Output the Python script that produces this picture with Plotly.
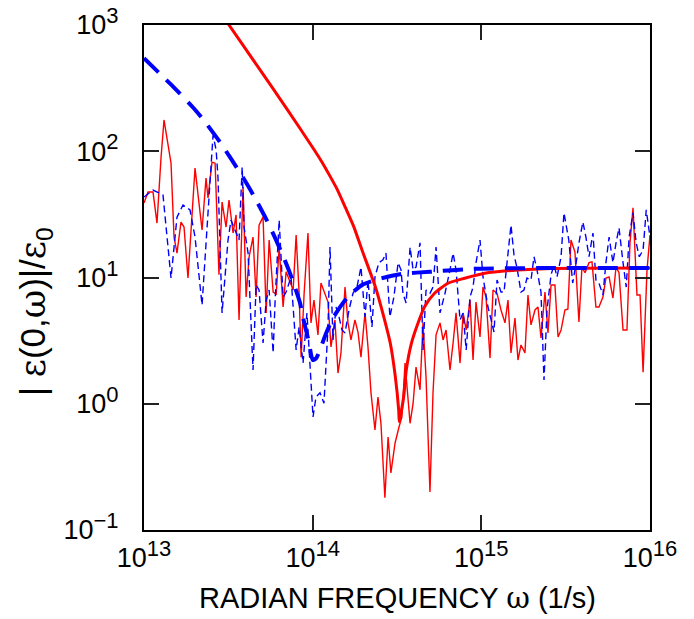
import plotly.graph_objects as go

# ---------------- data ----------------
# thick red solid curve
red_smooth_omega = [2.82e13, 3.19e13, 4.5e13, 7.11e13, 1.0e14, 1.12e14, 1.245e14, 1.40e14, 1.562e14,
                    1.75e14, 1.961e14, 2.352e14, 2.638e14, 2.886e14, 3.09e14, 3.236e14, 3.263e14,
                    3.465e14, 3.59e14, 3.85e14, 4.21e14, 4.61e14, 5.28e14, 6.34e14, 7.96e14,
                    1.047e15, 1.639e15, 2.58e15, 1.0e16]
red_smooth_eps = [1260, 1000, 515, 212, 107, 84.5, 66.2, 49.7, 35.9,
                  25.4, 16.5, 8.45, 4.90, 3.01, 1.64, 0.892, 0.72,
                  1.14, 1.85, 3.01, 4.34, 5.87, 7.50, 9.0, 9.86,
                  10.8, 11.46, 11.8, 11.9]

# thick blue dashed curve
blue_smooth_omega = [1.00e13, 1.284e13, 1.492e13, 1.960e13, 2.269e13, 2.822e13, 3.235e13, 3.97e13,
                     4.49e13, 5.34e13, 5.98e13, 6.95e13, 7.51e13, 8.41e13, 8.77e13, 9.5e13,
                     1.0e14, 1.05e14, 1.2e14, 1.32e14, 1.597e14, 1.96e14, 2.43e14, 3.43e14,
                     4.96e14, 8.93e14, 2.55e15, 1.0e16]
blue_smooth_eps = [545, 394, 324, 221, 175, 118, 89.7, 58.4,
                   44.0, 28.5, 20.7, 13.0, 9.93, 6.31, 4.78, 3.08,
                   2.22, 2.30, 3.6, 4.78, 6.88, 8.72, 9.7, 10.7,
                   11.1, 11.7, 11.9, 11.9]

# thin red noisy curve
red_noisy_omega = [
    1.00e13, 1.056e13, 1.131e13, 1.194e13, 1.261e13, 1.314e13, 1.446e13, 1.507e13, 1.569e13, 1.657e13,
    1.727e13, 1.823e13, 2.007e13, 2.209e13, 2.332e13, 2.396e13, 2.530e13, 2.640e13, 2.783e13, 2.903e13,
    3.066e13, 3.192e13, 3.373e13, 3.514e13, 3.660e13, 3.867e13, 4.03e13, 4.20e13, 4.43e13, 4.62e13,
    4.81e13, 5.08e13, 5.30e13, 5.52e13, 5.83e13, 6.08e13, 6.33e13, 6.68e13, 6.96e13, 7.25e13,
    7.66e13, 7.98e13, 8.31e13, 8.54e13, 8.90e13, 9.38e13, 9.77e13,
    1.018e14, 1.075e14, 1.120e14, 1.183e14, 1.233e14, 1.284e14, 1.356e14, 1.413e14, 1.472e14, 1.555e14,
    1.620e14, 1.687e14, 1.781e14, 1.856e14, 1.934e14, 2.043e14, 2.128e14, 2.217e14, 2.341e14, 2.439e14,
    2.54e14, 2.68e14, 2.80e14, 2.91e14, 3.08e14, 3.25e14, 3.38e14, 3.53e14, 3.78e14, 3.94e14,
    4.10e14, 4.33e14, 4.51e14, 4.70e14, 4.96e14, 5.17e14, 5.39e14, 5.69e14, 5.93e14, 6.18e14,
    6.52e14, 6.80e14, 7.08e14, 7.48e14, 7.80e14, 8.13e14, 8.57e14, 8.93e14, 9.30e14, 9.82e14,
    1.023e15, 1.066e15, 1.126e15, 1.173e15, 1.239e15, 1.308e15, 1.381e15, 1.439e15, 1.499e15, 1.583e15,
    1.649e15, 1.718e15, 1.814e15, 1.890e15, 1.970e15, 2.080e15, 2.167e15, 2.258e15, 2.384e15, 2.484e15,
    2.59e15, 2.73e15, 2.85e15, 2.97e15, 3.13e15, 3.26e15, 3.40e15, 3.59e15, 3.79e15, 3.95e15,
    4.12e15, 4.35e15, 4.53e15, 4.78e15, 4.98e15, 5.26e15, 5.48e15, 5.72e15, 6.03e15, 6.29e15,
    6.55e15, 6.92e15, 7.30e15, 7.61e15, 7.93e15, 8.37e15, 8.73e15, 9.10e15, 9.60e15, 1.00e16]
red_noisy_eps = [
    38.9, 47.5, 47.5, 27.0, 88.2, 177, 80.5, 20.9, 15.6, 27.5,
    25.1, 9.9, 73.6, 23.8, 61.2, 42.6, 82, 80.5, 10.5, 39.6,
    25.1, 41.1, 22.5, 31.3, 4.61, 52.1, 7.0, 14.6, 20.9, 7.0,
    26.0, 30.2, 5.24, 19.8, 7.67, 7.4, 17.4, 5.84, 11.1, 9.55,
    7.96, 21.7, 7.5, 2.34, 7.5, 22.5, 4.37,
    6.63, 3.51, 9.04, 7.27, 6.39, 2.82, 4.61, 1.75, 2.53, 8.4,
    4.37, 3.20, 4.61, 3.70, 2.34, 5.24, 2.82, 1.22, 0.619, 1.13,
    0.70, 0.18, 0.545, 0.283, 0.489, 0.654, 0.785, 2.10, 0.70, 1.01,
    1.95, 1.29, 4.37, 1.63, 0.20, 1.22, 3.51, 4.37, 3.20, 3.84,
    1.85, 3.03, 5.24, 2.10, 5.24, 3.84, 6.63, 2.22, 6.39, 3.38,
    8.4, 7.0, 2.30, 7.96, 7.5, 5.53, 4.37, 6.63, 2.53, 4.78,
    2.22, 2.92, 2.53, 7.27, 4.21, 5.53, 5.84, 3.32, 7.67, 3.64,
    8.72, 8.72, 3.38, 3.84, 5.53, 5.63, 19.8, 15.9, 4.44, 12.1,
    10.9, 13.1, 13.3, 5.84, 5.84, 7.0, 9.9, 10.1, 6.88, 12.1,
    10.9, 3.84, 3.84, 18.8, 35.6, 7.27, 7.27, 1.78, 11.5, 21.7]

# thin blue dashed noisy curve
blue_noisy_omega = [
    1.00e13, 1.131e13, 1.296e13, 1.446e13, 1.569e13, 1.703e13, 1.874e13, 2.007e13, 2.209e13, 2.364e13,
    2.566e13, 2.678e13, 2.745e13, 2.903e13, 3.149e13, 3.28e13, 3.42e13, 3.66e13, 3.82e13, 3.92e13,
    4.14e13, 4.26e13, 4.43e13, 4.62e13, 4.81e13, 5.08e13, 5.30e13, 5.52e13, 5.83e13, 5.99e13,
    6.33e13, 6.68e13, 6.96e13, 7.44e13, 7.98e13, 8.31e13, 8.77e13, 9.25e13, 9.64e13,
    1.005e14, 1.046e14, 1.105e14, 1.167e14, 1.200e14, 1.233e14, 1.267e14, 1.320e14, 1.375e14, 1.433e14,
    1.492e14, 1.555e14, 1.642e14, 1.734e14, 1.831e14, 1.934e14, 2.043e14, 2.128e14, 2.247e14, 2.341e14,
    2.47e14, 2.61e14, 2.72e14, 2.87e14, 3.03e14, 3.21e14, 3.34e14, 3.43e14, 3.58e14, 3.78e14,
    3.94e14, 4.10e14, 4.33e14, 4.51e14, 4.70e14, 4.96e14, 5.17e14, 5.39e14, 5.69e14, 6.09e14,
    6.52e14, 6.80e14, 7.08e14, 7.48e14, 7.80e14, 8.13e14, 8.57e14, 8.93e14, 9.30e14, 9.82e14,
    1.023e15, 1.095e15, 1.189e15, 1.239e15, 1.308e15, 1.363e15, 1.420e15, 1.499e15, 1.562e15, 1.628e15,
    1.718e15, 1.790e15, 1.865e15, 1.970e15, 2.052e15, 2.138e15, 2.258e15, 2.353e15, 2.451e15, 2.59e15,
    2.70e15, 2.81e15, 2.97e15, 3.09e15, 3.30e15, 3.48e15, 3.65e15, 3.79e15, 4.00e15, 4.17e15,
    4.35e15, 4.59e15, 4.78e15, 4.98e15, 5.26e15, 5.48e15, 5.72e15, 6.03e15, 6.29e15, 6.55e15,
    6.92e15, 7.23e15, 7.52e15, 7.93e15, 8.28e15, 8.64e15, 9.10e15, 9.50e15, 1.00e16]
blue_noisy_eps = [
    43.4, 49.3, 45.0, 9.9, 30.1, 37.5, 34.3, 20.9, 6.05, 25.1,
    134, 102, 62.3, 5.24, 19.8, 28.5, 25.1, 19.8, 75, 25.1,
    15.6, 6.28, 1.85, 8.72, 7.96, 3.03, 6.63, 7.96, 2.53, 6.63,
    28.5, 7.0, 7.67, 10.1, 2.67, 4.06, 2.10, 5.24, 2.10,
    0.785, 1.13, 1.22, 1.01, 1.85, 4.06, 17.4, 3.20, 5.84, 4.87,
    3.84, 3.64, 5.53, 7.5, 8.4, 12.1, 4.87, 9.55, 4.06, 10.1,
    13.1, 13.8, 15.6, 4.87, 7.0, 13.1, 11.5, 7.5, 6.28, 17.4,
    11.5, 12.1, 18.8, 2.67, 7.96, 7.5, 8.4, 17.4, 5.24, 7.5,
    11.5, 15.6, 11.5, 4.61, 5.24, 2.67, 7.0, 8.4, 13.1, 19.8,
    10.1, 5.84, 3.70, 9.55, 7.67, 7.67, 13.1, 26.0, 15.1, 11.9,
    7.67, 7.96, 9.9, 9.55, 14.6, 11.5, 7.67, 1.54, 5.53, 10.5,
    12.6, 10.1, 14.6, 32.5, 19.8, 9.04, 13.1, 18.8, 27.5, 20.9,
    14.6, 22.5, 9.55, 9.04, 7.27, 13.1, 20.9, 13.1, 18.8, 24.7,
    13.1, 8.4, 20.9, 32.5, 18.8, 14.6, 16.5, 34.3, 20.9]

SUP = "<sup><span style='font-size:22px'>{}</span></sup>"
x_tick_vals = [1e13, 1e14, 1e15, 1e16]
x_tick_text = ["10" + SUP.format(e) for e in ["13", "14", "15", "16"]]
y_tick_vals = [1e-1, 1e0, 1e1, 1e2, 1e3]
y_tick_text = ["10" + SUP.format(e) for e in ["\u22121", "0", "1", "2", "3"]]

GREEK = "<span style='font-family:DejaVu Serif'>{}</span>"
x_title = "RADIAN FREQUENCY " + GREEK.format("\u03c9") + " (1/s)"
y_title = ("| " + GREEK.format("\u03b5") + "(0," + GREEK.format("\u03c9") + ")|/"
           + GREEK.format("\u03b5") + "<sub>0</sub>")

# ---------------- figure ----------------
fig = go.Figure()
fig.add_trace(go.Scatter(x=red_noisy_omega, y=red_noisy_eps, mode="lines",
                         line=dict(color="#ff0000", width=1.4)))
fig.add_trace(go.Scatter(x=blue_noisy_omega, y=blue_noisy_eps, mode="lines",
                         line=dict(color="#0000ff", width=1.4, dash="7px,4px")))
fig.add_trace(go.Scatter(x=red_smooth_omega, y=red_smooth_eps, mode="lines",
                         line=dict(color="#ff0000", width=3, shape="spline", smoothing=0.6)))
fig.add_trace(go.Scatter(x=blue_smooth_omega, y=blue_smooth_eps, mode="lines",
                         line=dict(color="#0000ff", width=4, dash="20px,11px",
                                   shape="spline", smoothing=0.6)))

axis_common = dict(type="log", ticks="inside", ticklen=15, tickwidth=1.5, tickcolor="#222",
                   showline=True, linewidth=2, linecolor="black", mirror="ticks",
                   showgrid=False, zeroline=False, automargin=False,
                   ticklabeloverflow="allow",
                   tickfont=dict(family="Liberation Sans, Arial, sans-serif", size=27, color="black"))

fig.update_layout(
    width=694, height=619,
    margin=dict(l=144, r=44, t=25, b=89),
    plot_bgcolor="white", paper_bgcolor="white",
    showlegend=False,
    font=dict(family="Liberation Sans, Arial, sans-serif", size=27, color="black"),
    xaxis=dict(range=[13, 16], tickvals=x_tick_vals, ticktext=x_tick_text,
               ticklabelstandoff=3, **axis_common),
    yaxis=dict(range=[-1, 3], tickvals=y_tick_vals, ticktext=y_tick_text,
               ticklabelstandoff=18, **axis_common),
    annotations=[
        dict(text=x_title, xref="paper", yref="paper", x=0.5, y=-0.135,
             showarrow=False, xanchor="center", yanchor="middle",
             font=dict(size=29, color="black")),
        dict(text=y_title, xref="paper", yref="paper", x=-0.215, y=0.432,
             showarrow=False, xanchor="center", yanchor="middle", textangle=-90,
             font=dict(size=35, color="black")),
    ],
)

# remove the default 8 px page margin so the figure sits at the window's corner
fig.write_html("out.html",
               config={"displayModeBar": False},
               post_script="document.body.style.margin='0px';document.body.style.padding='0px';")
